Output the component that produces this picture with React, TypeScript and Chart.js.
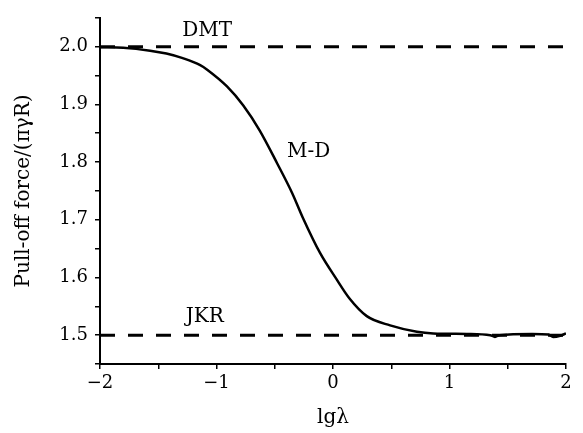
import React, { useEffect, useRef } from "react";
import { Chart, registerables } from "chart.js";

Chart.register(...registerables);

// M-D curve (lg lambda, normalized pull-off force)
const mdX = [-2.0, -1.8, -1.57, -1.43, -1.29, -1.14, -1.08, -0.91, -0.77, -0.63, -0.48, -0.35, -0.26, -0.11, 0.03, 0.14, 0.29, 0.49, 0.72, 0.86, 1.15, 1.35, 1.39, 1.43, 1.71, 1.85, 1.89, 1.95, 2.0];
const mdY = [1.999, 1.998, 1.993, 1.988, 1.98, 1.968, 1.96, 1.931, 1.898, 1.855, 1.798, 1.746, 1.704, 1.642, 1.597, 1.564, 1.533, 1.517, 1.506, 1.503, 1.502, 1.5, 1.497, 1.5, 1.502, 1.501, 1.497, 1.499, 1.503];

// Limits
const dmtX = [-2, 2];
const dmtY = [2.0, 2.0];
const jkrX = [-2, 2];
const jkrY = [1.5, 1.5];

// Text labels (data coordinates)
const labelTexts = ["DMT", "M-D", "JKR"];
const labelX = [-1.08, -0.21, -1.1];
const labelY = [2.028, 1.8186, 1.531];

const xTitle = "lgλ";
const yTitle = "Pull-off force/(πγR)";

const FONT = "'DejaVu Serif', serif";

const toPts = (xs: number[], ys: number[]) => xs.map((x, i) => ({ x, y: ys[i] }));

const labelPlugin = {
  id: "curveLabels",
  afterDatasetsDraw(chart: any) {
    const { ctx, scales } = chart;
    ctx.save();
    ctx.fillStyle = "#000";
    ctx.font = `20px ${FONT}`;
    ctx.textAlign = "center";
    ctx.textBaseline = "middle";
    labelTexts.forEach((t, i) => {
      ctx.fillText(t, scales.x.getPixelForValue(labelX[i]), scales.y.getPixelForValue(labelY[i]));
    });
    ctx.restore();
  },
};

export default function App() {
  const ref = useRef<HTMLCanvasElement | null>(null);
  useEffect(() => {
    if (!ref.current) return;
    const chart = new Chart(ref.current, {
      type: "scatter",
      data: {
        datasets: [
          {
            data: toPts(dmtX, dmtY),
            showLine: true,
            borderColor: "#000",
            borderWidth: 3,
            borderDash: [15, 13],
            pointRadius: 0,
          },
          {
            data: toPts(jkrX, jkrY),
            showLine: true,
            borderColor: "#000",
            borderWidth: 3,
            borderDash: [15, 13],
            pointRadius: 0,
          },
          {
            data: toPts(mdX, mdY),
            showLine: true,
            borderColor: "#000",
            borderWidth: 2.5,
            pointRadius: 0,
            cubicInterpolationMode: "monotone",
          },
        ],
      },
      options: {
        responsive: false,
        animation: false,
        layout: { padding: { top: 6, right: 17, left: 0, bottom: 0 } },
        plugins: { legend: { display: false }, tooltip: { enabled: false } },
        scales: {
          x: {
            type: "linear",
            min: -2,
            max: 2,
            afterFit: (s: any) => { s.height = 69; },
            ticks: {
              stepSize: 0.5,
              autoSkip: false,
              maxRotation: 0,
              padding: 4,
              color: "#000",
              font: { family: FONT, size: 18 },
              callback: (v: any) => {
                const n = Number(v);
                if (Math.abs(n - Math.round(n)) < 1e-6) return String(Math.round(n)).replace("-", "\u2212");
                return "";
              },
            },
            grid: { drawOnChartArea: false, drawTicks: true, tickLength: 5, color: "#000", lineWidth: 1.5 },
            border: { display: true, color: "#000", width: 2 },
            title: { display: true, text: xTitle, color: "#000", font: { family: FONT, size: 20 }, padding: { top: 0, bottom: 3 } },
          },
          y: {
            type: "linear",
            min: 1.45,
            max: 2.05,
            afterFit: (s: any) => { s.width = 100; },
            ticks: {
              stepSize: 0.05,
              autoSkip: false,
              padding: 7,
              color: "#000",
              font: { family: FONT, size: 18 },
              callback: (v: any) => {
                const n = Number(v) * 10;
                const r = Math.round(n);
                if (Math.abs(n - r) < 1e-6) return (r / 10).toFixed(1);
                return "";
              },
            },
            grid: { drawOnChartArea: false, drawTicks: true, tickLength: 5, color: "#000", lineWidth: 1.5 },
            border: { display: true, color: "#000", width: 2 },
            title: { display: true, text: yTitle, color: "#000", font: { family: FONT, size: 20 }, padding: { top: 12, bottom: 0 } },
          },
        },
      },
      plugins: [labelPlugin],
    } as any);
    return () => chart.destroy();
  }, []);
  return (
    <div style={{ position: "fixed", left: 0, top: 0, width: 583, height: 433, background: "#fff" }}>
      <canvas ref={ref} width={583} height={433} style={{ display: "block" }} />
    </div>
  );
}
